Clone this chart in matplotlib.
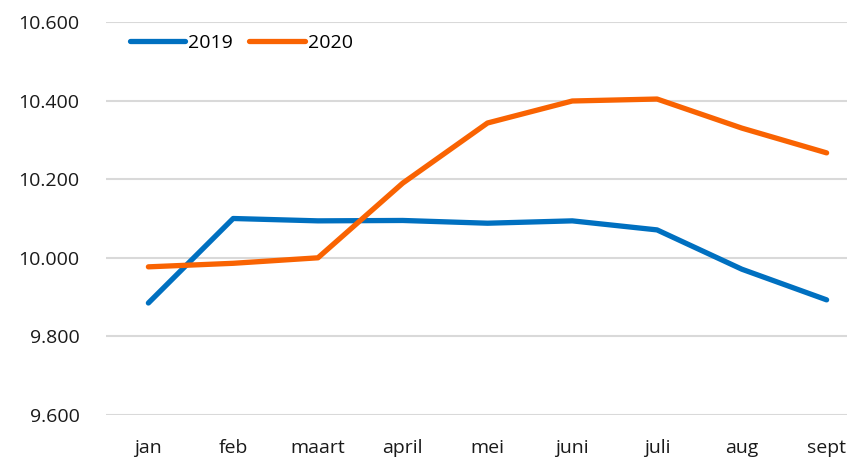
import matplotlib.pyplot as plt
from matplotlib.ticker import FuncFormatter

plt.rcParams['font.family'] = ['Open Sans', 'DejaVu Sans']

months = ["jan", "feb", "maart", "april", "mei", "juni", "juli", "aug", "sept"]
v2019 = [9885, 10100, 10094, 10095, 10088, 10094, 10071, 9971, 9893]
v2020 = [9977, 9986, 10000, 10190, 10343, 10399, 10404, 10330, 10267]
yticks = [9600, 9800, 10000, 10200, 10400, 10600]

fig = plt.figure(figsize=(8.47, 4.57), dpi=100)
ax = fig.add_axes([106 / 847, 42 / 457, 763 / 847, 393 / 457])

x = range(len(months))
ax.plot(x, v2019, color="#0070C0", lw=3.8, solid_capstyle="round", solid_joinstyle="round", label="2019")
ax.plot(x, v2020, color="#F96302", lw=3.8, solid_capstyle="round", solid_joinstyle="round", label="2020")

ax.set_xlim(-0.5, len(months) - 0.5)
ax.set_ylim(9600, 10600)
ax.set_yticks(yticks)
ax.yaxis.set_major_formatter(FuncFormatter(lambda v, p: f"{v/1000:.3f}"))
ax.set_xticks(list(x))
ax.set_xticklabels(months)
ax.tick_params(axis="both", length=0, labelsize=14, colors="#1a1a1a")
ax.tick_params(axis="x", pad=17)
ax.tick_params(axis="y", pad=19)

ax.grid(axis="y", color="#d9d9d9", lw=1.5)
ax.set_axisbelow(True)
for s in ax.spines.values():
    s.set_visible(False)

ax.legend(loc="upper left", bbox_to_anchor=(16 / 763, 0.99), ncol=2, frameon=False,
          fontsize=14, handlelength=2.85, handletextpad=0.15, columnspacing=0.85,
          borderaxespad=0)

fig.savefig("out.png", dpi=100)
